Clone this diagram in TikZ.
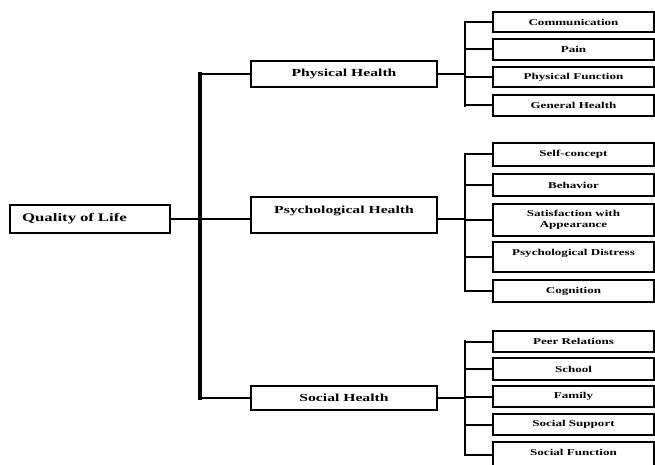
\documentclass[tikz,border=0pt]{standalone}
\usepackage{fontspec}
\newfontfamily\lblfont[FakeStretch=1.45]{Liberation Serif}
\begin{document}
\begin{tikzpicture}[x=1pt,y=-1pt,
  mainbox/.style={draw, line width=1.6pt, minimum width=186pt, inner sep=0pt,
    font=\lblfont\bfseries\fontsize{10.8}{12}\selectfont},
  subbox/.style={draw, line width=1.1pt, minimum width=161pt, inner sep=0pt, align=center,
    font=\lblfont\bfseries\fontsize{9}{10.5}\selectfont},
  trunk/.style={line width=4.8pt, line cap=rect},
  branch/.style={line width=2.5pt, line cap=rect},
  link/.style={line width=2pt}]
\useasboundingbox (0,0) rectangle (655,465);

% main column
\node[mainbox, minimum width=160pt, minimum height=28pt, text width=136pt, align=left,
  font=\lblfont\bfseries\fontsize{11.6}{13}\selectfont] (qol) at (90,219) {Quality of Life};
\node[mainbox, minimum height=26pt] (phys) at (344,74) {Physical Health};
\node[mainbox, minimum height=36pt, text height=7.5pt, text depth=10.3pt] (psy) at (344,215) {Psychological Health};
\node[mainbox, minimum height=24pt] (soc) at (344,398) {Social Health};

\coordinate (tr) at (200,219);
\coordinate (bx) at (465,219);

% physical sub boxes
\node[subbox, minimum height=20pt] (p1) at (573.5,22) {Communication};
\node[subbox, minimum height=21pt] (p2) at (573.5,49.5) {Pain};
\node[subbox, minimum height=20pt] (p3) at (573.5,77) {Physical Function};
\node[subbox, minimum height=21pt] (p4) at (573.5,105.5) {General Health};

% psychological sub boxes
\node[subbox, minimum height=23pt] (s1) at (573.5,154.5) {Self-concept};
\node[subbox, minimum height=22pt] (s2) at (573.5,185) {Behavior};
\node[subbox, minimum height=32pt] (s3) at (573.5,220) {Satisfaction with\\Appearance};
\node[subbox, minimum height=30pt, text height=6.5pt, text depth=10.5pt] (s4) at (573.5,257) {Psychological Distress};
\node[subbox, minimum height=22pt] (s5) at (573.5,291) {Cognition};

% social sub boxes
\node[subbox, minimum height=21pt] (o1) at (573.5,341.5) {Peer Relations};
\node[subbox, minimum height=22pt] (o2) at (573.5,369) {School};
\node[subbox, minimum height=21pt] (o3) at (573.5,396.5) {Family};
\node[subbox, minimum height=21pt] (o4) at (573.5,424.5) {Social Support};
\node[subbox, minimum height=28pt, text height=6.5pt, text depth=8.5pt] (o5) at (573.5,456) {Social Function};

% left trunk
\draw[link] (phys.west) -- (phys.west -| tr);
\draw[link] (soc.west) -- (soc.west -| tr);
\draw[link] (qol.east) -- (qol.east -| psy.west);
\draw[trunk] (phys.west -| tr) -- (soc.west -| tr);

% physical branch
\draw[link] (phys.east) -- (phys.east -| bx);
\draw[branch] (p1.west -| bx) -- (p4.west -| bx);
\foreach \n in {p1,p2,p3,p4} \draw[link] (\n.west -| bx) -- (\n.west);

% psychological branch
\draw[link] ([yshift=-4pt]psy.east) -- ([yshift=-4pt]psy.east -| bx);
\draw[branch] (s1.west -| bx) -- (s5.west -| bx);
\foreach \n in {s1,s2,s3,s4,s5} \draw[link] (\n.west -| bx) -- (\n.west);

% social branch
\draw[link] (soc.east) -- (soc.east -| bx);
\draw[branch] (o1.west -| bx) -- ([yshift=1pt]o5.west -| bx);
\foreach \n in {o1,o2,o3,o4} \draw[link] (\n.west -| bx) -- (\n.west);
\draw[link] ([yshift=1pt]o5.west -| bx) -- ([yshift=1pt]o5.west);
\end{tikzpicture}
\end{document}
